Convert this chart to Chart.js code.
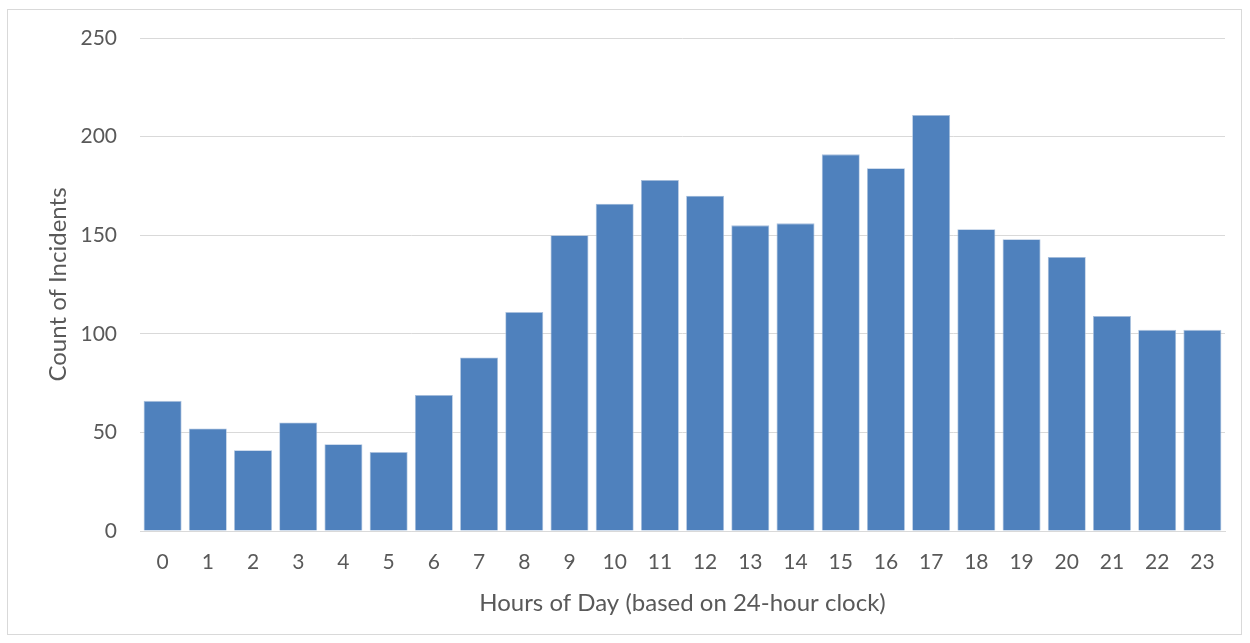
<!DOCTYPE html>
<html>
<head>
<meta charset="utf-8">
<script src="https://cdn.jsdelivr.net/npm/chart.js@4/dist/chart.umd.min.js"></script>
<style>
  html, body { margin: 0; padding: 0; background: #fff; }
  #wrap { position: relative; width: 1250px; height: 643px; }
  #frame { position: absolute; left: 7px; top: 9px; width: 1235px; height: 626px; border: 1px solid #d9d9d9; box-sizing: border-box; }
  canvas { position: absolute; left: 0; top: 0; }
</style>
</head>
<body>
<div id="wrap">
  <div id="frame"></div>
  <canvas id="c" width="1250" height="643"></canvas>
</div>
<script>
const hours = ["0","1","2","3","4","5","6","7","8","9","10","11","12","13","14","15","16","17","18","19","20","21","22","23"];
const incidents = [66, 52, 41, 55, 44, 40, 69, 88, 111, 150, 166, 178, 170, 155, 156, 191, 184, 211, 153, 148, 139, 109, 102, 102];
const yTicks = [0, 50, 100, 150, 200, 250];
const xTitle = "Hours of Day (based on 24-hour clock)";
const yTitle = "Count of Incidents";

const FONT = "Lato, 'Open Sans', sans-serif";
const TXT = "#595959";

new Chart(document.getElementById('c'), {
  type: 'bar',
  data: {
    labels: hours,
    datasets: [{
      data: incidents,
      backgroundColor: '#4F81BD',
      borderColor: '#A9C0DD',
      borderWidth: 0.8,
      barPercentage: 0.84,
      categoryPercentage: 1.0
    }]
  },
  options: {
    responsive: false,
    animation: false,
    devicePixelRatio: 1,
    layout: { padding: { left: 0, top: 38, right: 25, bottom: 0 } },
    plugins: { legend: { display: false }, tooltip: { enabled: false } },
    scales: {
      x: {
        grid: { display: false, drawTicks: false },
        border: { display: true, color: '#d9d9d9', width: 1 },
        ticks: { color: TXT, font: { family: FONT, size: 21 }, padding: 19, maxRotation: 0 },
        title: { display: true, text: xTitle, color: TXT, font: { family: FONT, size: 24 }, padding: { top: 0, bottom: 25 } },
        afterFit: s => { s.height = 112; s.paddingLeft = 0; s.paddingRight = 0; }
      },
      y: {
        min: 0, max: 250,
        afterBuildTicks: s => { s.ticks = yTicks.map(v => ({ value: v })); },
        grid: { color: '#d9d9d9', lineWidth: 1, drawTicks: false },
        border: { display: false },
        ticks: { color: TXT, font: { family: FONT, size: 21 }, padding: 23 },
        title: { display: true, text: yTitle, color: TXT, font: { family: FONT, size: 24 }, padding: { top: 44, bottom: 0 } },
        afterFit: s => { s.width = 140; s.paddingTop = 0; s.paddingBottom = 0; }
      }
    }
  }
});
</script>
</body>
</html>
